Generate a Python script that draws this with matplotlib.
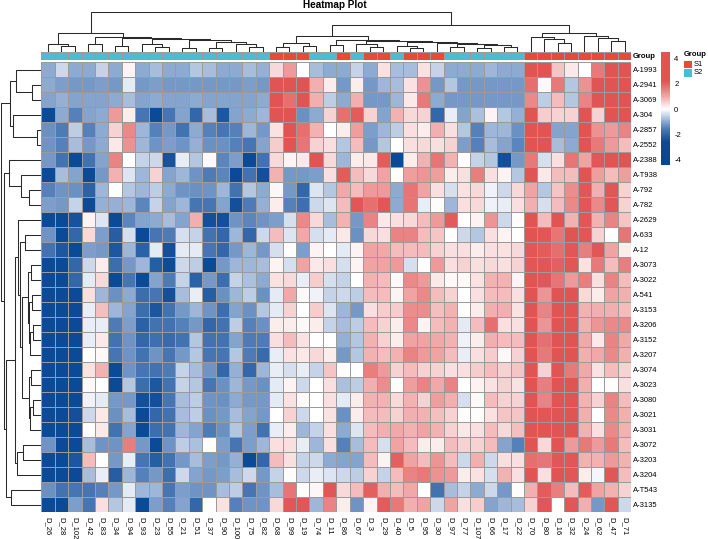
import numpy as np
import matplotlib
matplotlib.use("Agg")
import matplotlib.pyplot as plt
from matplotlib.colors import LinearSegmentedColormap, ListedColormap, Normalize
from matplotlib.patches import Rectangle
import matplotlib.cm as cm

plt.rcParams['font.family'] = ['Liberation Sans', 'DejaVu Sans']

col_labels = ["D_26", "D_28", "D_102", "D_42", "D_83", "D_34", "D_94", "D_93", "D_23", "D_55",
              "D_21", "D_51", "D_37", "D_90", "D_100", "D_75", "D_82", "D_68", "D_99", "D_19",
              "D_74", "D_11", "D_86", "D_67", "D_3", "D_29", "D_40", "D_5", "D_95", "D_30",
              "D_97", "D_77", "D_107", "D_66", "D_17", "D_22", "D_70", "D_80", "D_16", "D_32",
              "D_24", "D_62", "D_47", "D_71"]
row_labels = ["A-1993", "A-2941", "A-3069", "A-304", "A-2857", "A-2552", "A-2388", "A-T938",
              "A-792", "A-782", "A-2629", "A-633", "A-12", "A-3073", "A-3022", "A-541", "A-3153",
              "A-3206", "A-3152", "A-3207", "A-3074", "A-3023", "A-3080", "A-3021", "A-3031",
              "A-3072", "A-3203", "A-3204", "A-T543", "A-3135"]
groups = ["S2"] * 17 + ["S1"] * 3 + ["S2"] * 2 + ["S1"] + ["S2"] + ["S1"] * 2 + ["S2"] + \
         ["S1"] * 3 + ["S2"] * 6 + ["S1"] * 8

values = [
    [-0.98,-0.46,-0.98,-0.98,-0.52,-0.98,0.13,-0.98,-0.78,-0.98,-0.98,-0.65,-0.78,-0.98,-0.98,-0.78,-0.91,0.46,1.17,0.0,-0.78,-0.98,
     -0.98,-0.52,-0.98,0.33,-0.78,-0.78,0.33,-0.52,-0.98,-0.98,-0.98,-0.85,-0.98,-0.98,2.28,2.28,0.65,0.26,0.0,1.63,2.28,2.28],
    [-0.98,-1.1,-1.17,-1.17,-1.1,-1.17,-0.26,-1.17,-1.1,-1.17,-1.17,-1.17,-1.17,-1.17,-1.17,-1.1,-1.17,2.28,2.41,2.28,0.91,0.2,
     -1.17,0.2,-1.17,-0.85,-0.78,0.33,1.3,-1.17,-0.65,-1.17,-1.17,-1.17,-1.17,-1.17,1.82,0.07,1.63,-0.65,1.3,2.28,2.28,2.28],
    [-1.04,-0.91,-1.04,-1.04,-1.04,-0.98,-0.78,-1.04,-0.98,-1.04,-1.04,-0.98,-1.04,-1.04,-1.04,-1.04,-0.98,2.21,1.76,2.28,0.91,-0.59,
     -0.98,0.91,-1.17,-1.17,-0.85,0.26,1.63,-0.98,-1.17,-1.17,-1.17,-1.17,-1.17,-1.17,1.43,-0.59,0.78,-0.65,1.5,2.28,2.34,2.34],
    [-2.6,-0.98,-1.5,-1.04,-0.98,1.17,0.2,-1.63,-2.6,-1.63,-1.04,-1.95,-0.78,-2.28,-1.04,-0.98,-0.85,2.28,2.28,-1.3,-0.98,0.52,
     1.76,2.08,0.52,-1.04,0.85,0.46,0.52,-1.95,-0.2,-1.04,-0.72,0.13,-0.65,-0.91,2.28,0.59,0.52,0.52,2.21,0.52,2.28,2.28],
    [-1.3,-1.56,-0.59,-1.5,-0.98,0.52,1.43,-0.85,-1.5,-1.17,-1.69,-0.98,-1.5,-1.63,-1.5,-0.85,-1.17,0.33,2.28,1.76,0.85,0.0,
     0.2,1.1,-1.1,-0.85,-0.59,0.39,0.2,0.91,0.39,-0.65,-1.5,-0.85,-0.85,-1.3,2.28,2.28,-1.04,-1.04,2.28,1.3,1.17,1.5],
    [-1.24,-1.5,-0.78,-1.17,-0.98,0.26,1.3,-0.85,-1.24,-1.1,-1.24,-0.91,-1.3,-1.3,-1.5,-1.63,-1.04,0.59,2.28,1.69,0.52,0.39,
     -0.65,0.78,-1.17,-0.65,0.0,0.39,0.46,0.39,0.52,-1.1,-1.5,-0.78,-1.04,-1.43,2.28,2.28,-0.78,-0.98,2.21,1.63,1.17,0.78],
    [-1.17,-1.69,-2.6,-1.69,-1.04,1.5,0.0,-0.52,-0.46,-2.41,-0.2,-0.65,0.07,-1.43,-1.1,-2.6,-1.69,0.46,0.13,0.26,2.21,0.46,
     -0.85,0.2,0.26,2.08,-2.6,0.2,0.85,1.69,0.85,0.0,-0.52,-0.65,-2.47,-1.17,1.63,-0.39,0.39,1.69,1.04,2.15,2.21,2.21],
    [-2.6,-0.78,-1.04,-2.6,-1.17,0.85,-0.33,-0.85,0.52,-1.04,-0.85,-1.24,-1.56,-1.43,-2.6,-1.69,-2.47,0.85,-1.17,-1.17,-1.1,0.39,
     2.08,0.78,0.46,1.04,0.03,1.1,1.24,1.1,0.2,0.39,1.56,0.39,0.13,-0.65,2.21,0.26,0.78,0.78,2.21,1.1,0.78,1.1],
    [-1.5,-1.24,-1.3,-2.08,-0.85,0.0,-0.65,-0.85,-0.59,-0.98,-1.24,-1.3,-1.24,-0.85,-1.69,-0.65,-0.98,0.1,-1.17,-1.95,-0.33,-0.65,
     0.98,0.78,1.17,1.17,-0.98,1.69,1.04,0.39,-0.39,0.33,0.46,-0.13,-0.46,0.46,1.04,-0.65,0.65,1.37,2.15,0.91,2.15,0.52],
    [-1.1,-1.17,-0.52,-2.6,-0.91,-0.91,-0.85,-1.43,-0.52,-1.04,-0.85,-1.63,-1.63,-1.04,-2.47,-1.56,-0.91,0.2,-1.5,-1.76,-0.46,-0.33,
     0.78,2.15,1.76,2.15,-0.98,1.69,-0.2,0.03,-0.85,0.39,0.46,-0.13,-0.2,0.39,0.91,-0.39,0.78,1.43,2.15,1.43,2.15,0.52],
    [-2.6,-2.6,-2.41,0.13,-0.33,-2.6,-1.43,-1.04,-0.98,-0.78,-1.04,0.91,-2.47,-2.47,-1.24,-1.43,-1.24,-1.1,-0.39,1.43,0.46,-0.78,
     0.85,-1.17,1.5,0.26,0.39,0.46,0.78,1.17,2.08,0.0,0.13,1.24,-0.46,0.03,2.21,0.78,2.21,0.85,2.15,0.85,1.5,0.65],
    [-1.24,-2.6,-1.95,0.46,-1.1,-2.15,-0.39,-2.6,-1.63,-1.56,-0.39,-0.52,-1.69,-1.95,-0.85,-1.95,-0.46,0.78,-0.33,0.98,-0.39,-0.26,
     0.26,-1.3,0.46,0.39,1.5,1.5,0.78,0.65,0.0,-0.46,-0.65,0.39,0.13,0.0,2.21,2.15,1.69,2.21,2.15,0.52,0.0,1.69],
    [-1.69,-2.28,-2.6,-1.1,-1.17,-2.28,-0.85,-2.08,-0.26,-2.47,-0.26,-0.26,-1.63,-1.95,-1.17,-0.85,-1.17,-0.39,0.03,-1.1,0.13,0.0,
     -0.26,0.13,1.04,0.98,0.78,0.78,0.78,0.52,0.39,0.39,0.2,0.39,0.33,0.46,2.15,2.08,1.82,2.15,1.56,2.15,1.04,0.2],
    [-2.6,-2.6,-1.95,-0.46,0.2,-1.82,-1.17,-0.85,-2.15,-2.54,-0.46,-0.59,-2.6,-1.17,-0.85,-0.85,-0.78,0.13,-0.39,1.04,0.26,0.39,
     -0.39,0.13,1.04,1.04,1.17,-0.39,0.0,1.17,0.39,0.52,0.39,0.46,0.39,0.52,2.15,2.15,2.02,2.15,0.33,1.63,0.78,1.56],
    [-2.6,-2.6,-1.95,-0.26,0.46,-2.6,-1.63,-2.6,-1.04,-1.56,-0.52,-2.08,-1.17,-1.82,-0.52,-0.72,-0.98,0.33,0.46,-0.2,0.59,-0.39,
     -0.52,0.0,0.85,0.78,0.07,1.43,1.17,0.26,0.07,0.07,0.33,0.85,0.85,0.13,2.21,2.15,1.69,1.17,1.56,0.39,1.5,0.78],
    [-2.6,-2.6,-2.6,0.39,-0.85,-1.3,-0.98,-1.82,-1.63,-2.47,-0.78,-0.2,-2.15,-1.3,-0.85,-0.59,-1.3,-0.26,0.98,0.07,-0.13,-0.52,
     -0.46,-0.59,0.78,0.78,0.13,1.04,1.43,0.78,0.52,0.0,0.39,0.78,0.78,0.39,2.21,1.24,2.21,2.21,0.46,0.2,1.04,0.91],
    [-2.6,-2.6,-2.6,-0.2,0.72,-0.85,-1.04,-1.82,-2.34,-1.69,-1.17,-0.85,-1.24,-1.82,-1.04,-1.3,-0.65,-0.26,0.52,0.0,0.59,-0.33,
     -0.85,-1.17,0.39,0.59,0.59,1.37,1.37,0.72,0.85,0.03,0.2,0.91,0.91,0.33,2.21,1.5,2.21,2.21,0.85,0.91,0.91,0.78],
    [-2.6,-2.6,-2.6,-0.2,-0.2,-1.56,-1.1,-2.08,-1.69,-1.69,-1.5,-1.17,-1.95,-1.69,-0.59,-1.5,-1.3,0.2,0.2,0.07,0.2,-0.52,
     -0.78,-0.59,0.78,0.52,0.2,1.43,0.13,0.78,0.85,-0.26,0.78,1.76,0.39,0.39,2.21,1.24,2.21,2.21,0.85,1.24,1.43,1.43],
    [-2.6,-2.6,-2.6,-0.2,0.26,-1.69,-1.24,-1.95,-1.76,-1.89,-1.69,-0.65,-1.69,-1.69,-1.04,-1.56,-1.56,0.39,0.78,0.33,0.0,0.0,
     -0.91,-0.65,0.85,0.52,0.2,1.04,1.04,0.98,0.85,-0.13,0.2,0.91,0.78,0.78,2.21,1.76,2.21,2.21,0.98,0.26,1.5,0.98],
    [-2.6,-2.6,-2.6,0.0,0.07,-1.63,-1.24,-1.69,-1.24,-1.63,-1.17,-0.65,-1.63,-1.63,-0.65,-1.56,-1.89,-0.2,0.33,0.26,0.46,0.2,
     -1.17,-0.65,0.85,0.78,0.85,1.5,1.17,1.04,0.78,-0.2,0.39,0.59,0.07,0.52,2.21,1.63,2.21,2.21,0.91,0.98,1.43,0.91],
    [-2.6,-2.6,-2.6,0.33,0.85,-2.6,-1.24,-1.63,-1.69,-1.56,-0.52,-0.78,-1.24,-1.95,-0.91,-1.95,-0.85,-0.2,-0.39,-0.2,-0.52,0.65,
     0.03,0.0,1.56,1.17,0.52,0.78,0.52,0.52,0.39,0.39,0.59,0.78,0.52,0.65,2.21,0.52,2.21,1.63,0.98,0.33,0.78,0.52],
    [-2.6,-2.6,-2.6,0.07,0.0,-2.6,-0.65,-1.82,-2.28,-1.69,-0.52,-0.65,-1.63,-1.3,-0.85,-1.17,-1.3,-0.26,0.13,-0.46,0.0,0.39,
     -0.72,-0.59,0.91,1.37,0.03,1.1,1.5,0.98,1.5,0.0,0.13,0.33,0.52,0.33,2.21,1.56,2.21,2.21,0.91,0.0,0.03,0.39],
    [-2.6,-2.6,-2.6,-0.13,-0.26,-1.17,-1.17,-2.47,-2.47,-1.63,-0.78,-0.59,-1.24,-1.3,-0.98,-1.17,-1.17,-0.26,0.33,0.07,0.0,0.39,
     -0.26,0.2,0.85,0.85,0.46,0.85,0.52,1.1,0.91,-0.39,0.07,0.78,0.52,0.52,2.21,1.5,2.21,2.21,0.85,0.52,1.5,0.78],
    [-2.6,-2.6,-2.47,-0.46,0.26,-1.3,-0.78,-2.6,-1.95,-1.69,-0.78,-0.59,-1.3,-1.17,-0.78,-1.04,-1.17,0.0,0.52,-0.46,0.0,0.33,
     -1.3,0.2,0.78,0.78,0.52,0.91,0.85,0.72,0.52,0.03,0.03,0.33,0.65,0.65,2.21,2.15,2.21,2.21,0.91,0.0,1.43,0.91],
    [-2.6,-2.6,-2.6,0.03,0.26,-1.69,-1.04,-2.6,-1.82,-1.69,-0.85,-1.04,-1.56,-1.3,-0.65,-1.1,-1.69,-0.2,0.2,-0.85,-0.52,0.39,
     -0.98,-0.33,0.78,0.91,0.98,0.85,1.04,0.85,0.52,0.26,0.39,0.78,0.46,0.72,2.21,2.21,2.21,2.21,0.85,0.39,1.43,0.85],
    [-1.24,-2.6,-2.6,-0.78,-1.24,-1.24,1.56,-1.17,-2.6,-1.24,-0.59,-0.72,0.03,-1.1,-1.63,-1.1,-0.85,0.39,0.39,-0.2,-0.85,0.39,
     -1.5,-0.78,0.78,-0.39,1.04,0.78,0.2,0.2,0.78,0.52,0.52,0.78,-1.04,-1.5,2.21,0.46,2.21,1.17,1.63,1.17,1.63,0.78],
    [-2.6,-2.6,-2.34,0.78,0.0,-1.17,-0.2,-1.63,-2.15,-1.69,-1.17,-0.78,-1.1,-1.17,-0.91,-2.6,-1.95,0.78,0.39,-0.52,-0.46,-0.98,
     -1.04,-1.04,0.78,0.13,2.02,1.04,0.78,1.24,0.78,-0.46,0.91,-0.46,0.39,0.39,1.82,1.69,2.15,2.15,0.85,0.85,1.17,0.85],
    [-2.6,-2.6,-2.6,-0.78,-0.2,-2.15,-0.85,-1.5,-1.17,-1.82,-0.46,-1.04,-1.17,-1.1,-0.78,-0.46,-1.17,-0.52,0.03,-0.46,-0.2,-0.33,
     -0.46,-0.59,0.52,-0.52,0.78,1.5,1.63,1.3,1.17,0.2,0.33,-0.39,0.85,0.39,2.21,0.39,2.21,2.15,0.2,-0.1,2.15,0.78],
    [-1.3,-1.69,-1.63,-1.63,-1.5,-1.17,-0.26,-0.85,-0.85,-1.63,-1.1,-1.24,-1.24,-0.78,-0.59,-1.63,-1.24,-0.78,1.69,0.03,0.1,2.15,
     0.46,0.78,2.02,0.91,0.78,0.98,0.0,-1.69,-0.78,-0.52,-0.98,-0.46,-1.17,0.03,0.91,2.08,1.56,0.78,2.08,1.04,0.85,0.52],
    [-2.6,-2.6,-1.1,-1.63,0.39,-0.65,-0.26,-2.6,-1.1,-1.5,-1.04,-1.95,0.03,0.33,-1.5,-1.24,-1.24,0.46,2.15,2.15,-0.85,1.5,
     0.2,-1.24,0.13,2.08,1.63,0.91,1.04,-0.46,1.04,0.39,0.59,-1.04,-0.85,-0.78,0.52,2.15,0.03,2.15,0.91,-1.17,2.15,-0.46],
]

# dendrogram trees: [height, left, right]; integers are leaf positions
col_tree = [40.0,
            [18.7,
             [7.7, 0, [5.3, 1, 2]],
             [14.7, [7.7, 3, 4],
              [14.0, [6.0, 5, 6],
               [13.0, [8.0, 7, [5.0, 8, 9]],
                [12.0, [4.0, 10, 11], [10.0, [4.0, 12, 13], [8.0, 14, [5.0, 15, 16]]]]]]]],
            [27.0,
             [15.3,
              [9.0, [5.0, 17, 18], [6.0, 19, 20]],
              [12.0, [7.0, 21, 22],
               [11.0, [8.0, 23, [5.0, 24, 25]],
                [10.0, [6.0, 26, [4.0, 27, 28]],
                 [9.0, 29, [8.0, [5.0, 30, 31], [7.0, [4.0, 32, 33], [5.0, 34, 35]]]]]]]],
             [18.7, [14.3, 36, [12.7, 37, [8.7, 38, 39]]],
              [16.0, 40, [13.7, 41, [11.0, 42, 43]]]]]]

row_tree = [39.6,
            [31.0, [25.0, 0, [9.0, 1, 2]], [27.7, 3, [4.0, 4, 5]]],
            [37.0,
             [32.0, 6, [20.0, 7, [11.7, 8, 9]]],
             [35.0,
              [26.0,
               [22.7, 10,
                [20.3, [16.0, 11, 12],
                 [18.5,
                  [13.0, [10.0, 13, 14], [12.0, [9.0, 15, 16], [11.0, [8.0, 17, 18], 19]]],
                  [12.0, [10.0, 20, 21], [11.0, [8.0, 22, 23], 24]]]]],
               [23.7, [18.0, 25, 26], 27]],
              [30.0, 28, 29]]]]

# ---------------- styling ----------------
W, H = 708, 539
fig = plt.figure(figsize=(W / 100, H / 100), dpi=100)
fig.patch.set_facecolor('white')


def ax_px(x0, y0, x1, y1):
    return fig.add_axes([x0 / W, 1 - y1 / H, (x1 - x0) / W, (y1 - y0) / H])


VMIN, VMAX = -4.4, 4.5
nodes = [(-4.4, (10, 70, 146)), (-2.6, (11, 74, 150)), (-1.63, (72, 118, 180)),
         (-1.04, (133, 164, 205)), (-0.52, (198, 212, 232)), (0.0, (255, 255, 255)),
         (0.46, (248, 216, 216)), (0.98, (241, 168, 168)), (1.63, (232, 122, 122)),
         (2.21, (224, 84, 84)), (4.5, (224, 84, 84))]
cmap = LinearSegmentedColormap.from_list(
    'bwr_custom', [((v - VMIN) / (VMAX - VMIN), tuple(c / 255 for c in col)) for v, col in nodes])
norm = Normalize(VMIN, VMAX)

FS = 5.5
HX0, HX1, HY0, HY1 = 41.3, 631.3, 62, 512
data = np.array(values)
nr, nc = data.shape

ax = ax_px(HX0, HY0, HX1, HY1)
ax.pcolormesh(np.arange(nc + 1), np.arange(nr + 1), data, cmap=cmap, norm=norm,
              edgecolors='#9b9b9b', linewidth=0.6)
ax.set_xlim(0, nc)
ax.set_ylim(nr, 0)
for s in ax.spines.values():
    s.set_visible(False)
ax.set_xticks(np.arange(nc) + 0.5)
ax.set_xticklabels(col_labels, rotation=270, fontsize=FS, ha='center', va='top')
ax.yaxis.tick_right()
ax.set_yticks(np.arange(nr) + 0.5)
ax.set_yticklabels(row_labels, fontsize=FS)
ax.tick_params(axis='x', length=0, pad=3.6)
ax.tick_params(axis='y', length=0, pad=1.5)

# group annotation bar
gax = ax_px(HX0, 52, HX1, 60)
gcodes = np.array([[0 if g == 'S1' else 1 for g in groups]])
gax.pcolormesh(np.arange(nc + 1), [0, 1], gcodes, cmap=ListedColormap(['#E64B35', '#4DBBD5']),
               vmin=0, vmax=1, edgecolors='#9b9b9b', linewidth=0.6)
gax.set_xlim(0, nc)
gax.set_ylim(1, 0)
gax.axis('off')
fig.text(632.5 / W, 1 - 56 / H, 'Group', fontsize=FS, fontweight='bold', ha='left', va='center')

LINE_KW = dict(color='#2a2a2a', linewidth=0.75, solid_capstyle='butt')


def draw_tree(node, axis, vertical):
    if isinstance(node, int):
        return node + 0.5, 0.0
    h, left, right = node
    pl, hl = draw_tree(left, axis, vertical)
    pr, hr = draw_tree(right, axis, vertical)
    xs = [pl, pl, pr, pr]
    ys = [hl, h, h, hr]
    if vertical:
        axis.plot(xs, ys, **LINE_KW)
    else:
        axis.plot(ys, xs, **LINE_KW)
    return (pl + pr) / 2, h


cax_d = ax_px(HX0, 12, HX1, 51.5)
draw_tree(col_tree, cax_d, True)
cax_d.set_xlim(0, nc)
cax_d.set_ylim(0, 39.5)
cax_d.axis('off')

rax_d = ax_px(0, HY0, HX0 - 0.5, HY1)
draw_tree(row_tree, rax_d, False)
rax_d.set_ylim(nr, 0)
rax_d.set_xlim(40.8, 0)
rax_d.axis('off')

# colour legend
cbax = ax_px(661, 52, 670, 165)
cb = fig.colorbar(cm.ScalarMappable(norm=norm, cmap=cmap), cax=cbax, ticks=[-4, -2, 0, 2, 4])
cb.outline.set_visible(False)
cb.ax.tick_params(length=0, labelsize=FS, pad=3.0)
cb.ax.set_yticklabels(['-4', '-2', '0', '2', '4'])

# group legend
fig.text(684 / W, 1 - 55 / H, 'Group', fontsize=FS, fontweight='bold', ha='left', va='center')
for i, (lab, colr) in enumerate([('S1', '#E64B35'), ('S2', '#4DBBD5')]):
    y0 = 60.8 + i * 8.2
    fig.add_artist(Rectangle((684 / W, 1 - (y0 + 7.6) / H), 8 / W, 7.6 / H,
                             transform=fig.transFigure, facecolor=colr, edgecolor='none'))
    fig.text(694 / W, 1 - (y0 + 3.9) / H, lab, fontsize=FS, ha='left', va='center')

fig.text(335 / W, 1 - 5.5 / H, 'Heatmap Plot', fontsize=7.2, fontweight='bold',
         ha='center', va='center')

fig.savefig('out.png', dpi=100)
